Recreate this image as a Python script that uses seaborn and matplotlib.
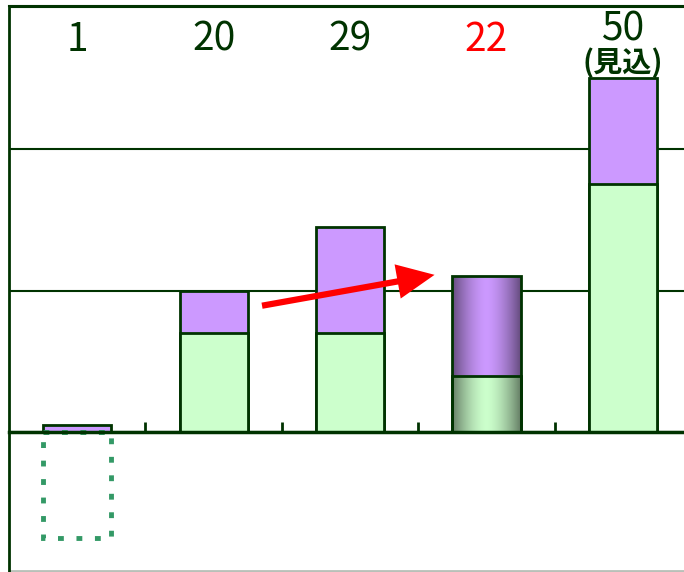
import numpy as np
import pandas as pd
import matplotlib.pyplot as plt
import seaborn as sns

# Data
categories = ["a", "b", "c", "d", "e"]
green_vals = [0, 14, 14, 8, 35]
purple_vals = [1, 6, 15, 14, 15]
empty_box = [-15, np.nan, np.nan, np.nan, np.nan]
top_labels = ["1", "20", "29", "22", "50"]
label_colors = ["#003300", "#003300", "#003300", "#FF0000", "#003300"]
note_label = "(見込)"

dark = "#003300"
purple = "#CC99FF"
green = "#CCFFCC"

sns.set_style("white")
plt.rcParams["font.family"] = ["Liberation Sans Narrow", "Noto Sans CJK JP", "DejaVu Sans"]

df = pd.DataFrame({
    "cat": categories,
    "green": green_vals,
    "total": np.array(green_vals) + np.array(purple_vals),
    "box": empty_box,
})

fig = plt.figure(figsize=(6.84, 5.72), dpi=100)
ax = fig.add_axes([9 / 684, 1 / 572, 682 / 684, 565 / 572])

# stacked bars: total in purple, green drawn over it
sns.barplot(data=df, x="cat", y="total", order=categories, color=purple,
            saturation=1, width=0.5, edgecolor=dark, linewidth=2, ax=ax, zorder=3)
n_purple = len(ax.patches)
sns.barplot(data=df, x="cat", y="green", order=categories, color=green,
            saturation=1, width=0.5, edgecolor=dark, linewidth=2, ax=ax, zorder=3)
sns.barplot(data=df, x="cat", y="box", order=categories, fill=False,
            saturation=1, width=0.5, edgecolor="#339966", linewidth=3.5,
            linestyle=(0, (1.2, 2.6)), ax=ax, zorder=3)

# shaded (gradient) look for the 4th bar
t = np.linspace(0, 1, 60)
shade = 0.5 + 0.5 * (1 - np.abs(2 * t - 1) ** 1.6)
for p, base in [(ax.patches[3], purple), (ax.patches[n_purple + 3], green)]:
    rgb = np.array(plt.matplotlib.colors.to_rgb(base))
    img = (shade[:, None] * rgb[None, :])[None, :, :]
    x0, y0 = p.get_x(), p.get_y()
    w, h = p.get_width(), p.get_height()
    im = ax.imshow(img, extent=[x0, x0 + w, y0, y0 + h], aspect="auto",
                   interpolation="bilinear", zorder=3.5)
    im.set_clip_path(p)
    p.set_facecolor("none")
    p.set_zorder(4)

ax.set_xlim(-0.5, 4.5)
ax.set_ylim(-19.6, 60.2)

# axes styling
ax.set_xlabel("")
ax.set_ylabel("")
ax.set_yticks([0, 20, 40, 60])
ax.set_yticklabels([])
ax.tick_params(axis="y", length=0)
ax.yaxis.grid(True, color=dark, linewidth=1.5)
ax.set_axisbelow(True)
ax.set_xticks([0.5, 1.5, 2.5, 3.5])
ax.set_xticklabels([])
ax.tick_params(axis="x", bottom=True, direction="in", length=7, width=2, color=dark)
ax.spines["bottom"].set_position(("data", 0))
ax.spines["bottom"].set_color(dark)
ax.spines["bottom"].set_linewidth(2.5)
ax.spines["bottom"].set_zorder(5)
ax.spines["left"].set_color(dark)
ax.spines["left"].set_linewidth(2)
ax.spines["top"].set_color(dark)
ax.spines["top"].set_linewidth(1.5)
ax.spines["right"].set_visible(False)
ax.axhline(-19.6, color="#b8c0b8", linewidth=2, clip_on=False)

# value labels above each bar
for i, (txt, col) in enumerate(zip(top_labels, label_colors)):
    ypos = 56.9 if i == 4 else 55.4
    ax.text(i, ypos, txt, color=col, fontsize=28, ha="center", va="center")
ax.text(4, 52.2, note_label, color=dark, fontsize=21, fontweight="bold",
        ha="center", va="center")

# red trend arrow
ax.annotate("", xy=(2.64, 22.3), xytext=(1.335, 17.8),
            arrowprops=dict(arrowstyle="simple,head_length=27,head_width=25,tail_width=4.5",
                            mutation_scale=1, color="#FF0000", lw=0),
            zorder=6)

fig.savefig("out.png", dpi=100)
